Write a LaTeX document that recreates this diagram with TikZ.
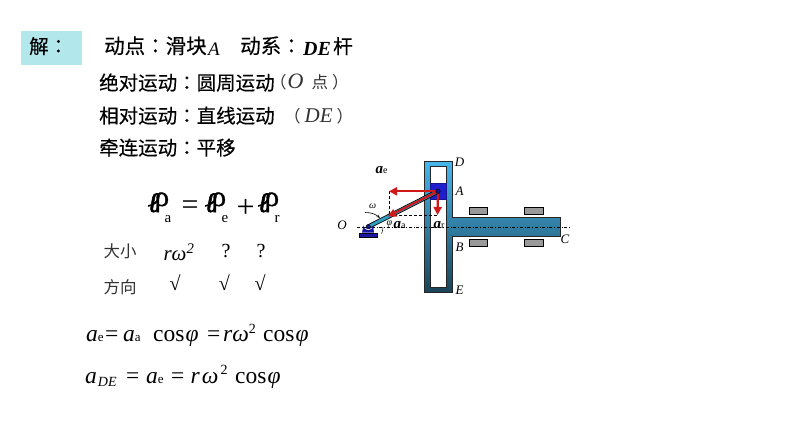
\documentclass[tikz,border=0pt]{standalone}
\usepackage{fontspec}
\setmainfont{Liberation Serif}
\newfontfamily\cjk[FakeBold=0.35]{Noto Sans CJK SC}
\newfontfamily\cjklight{Noto Sans CJK SC}
\newfontfamily\cjkcolon[FakeBold=0.35]{Noto Sans CJK TC}
\newfontfamily\glyphbold[FakeBold=2.2]{Liberation Serif Bold Italic}
\newfontfamily\glyphround[FakeBold=1.2]{Liberation Serif}
\usetikzlibrary{arrows.meta}
\definecolor{boxcyan}{HTML}{B2E8EC}
\definecolor{framelight}{HTML}{46B6EC}
\definecolor{framemid}{HTML}{2E95C8}
\definecolor{framedark}{HTML}{1C4458}
\definecolor{crankteal}{HTML}{2F9CC0}
\definecolor{sliderblue}{HTML}{1E1ECC}
\definecolor{vecred}{HTML}{D01818}
\newcommand{\mh}{{\cjkcolon ：}}
\newcommand{\vecglyph}{{\fontsize{28}{28}\glyphbold ℓ\kern-5.5pt\raisebox{6pt}{\fontsize{29}{29}\glyphround ρ}}}
\tikzset{
  every node/.style={inner sep=0pt},
  head/.style={anchor=base west,font=\cjk\fontsize{19.5}{20}\selectfont},
  headwide/.style={anchor=base west,font=\cjk\fontsize{20.5}{21}\selectfont},
  thincn/.style={anchor=center,font=\cjklight\fontsize{16.5}{18}\selectfont,text=black!80},
  eqn/.style={anchor=base west,font=\fontsize{23.5}{24}\selectfont},
  tbl/.style={anchor=center,font=\fontsize{20}{20}\selectfont},
  sublabel/.style={anchor=center,font=\fontsize{13}{13}\selectfont\itshape},
  smallgreek/.style={anchor=center,font=\fontsize{10}{10}\selectfont\itshape},
  veclabel/.style={anchor=base west,font=\fontsize{15}{15}\selectfont\bfseries\itshape},
  guide/.style={draw=black,line width=0.9pt,fill=black!40},
  redvec/.style={draw=vecred,line width=2.2pt,-{Triangle[length=8pt,width=8pt]}},
  helper/.style={densely dashed,line width=0.5pt}
}
\begin{document}
\begin{tikzpicture}[x=1pt,y=-1pt]
  \useasboundingbox (0,0) rectangle (794,446);
  % solution text
  \node[fill=boxcyan,minimum width=61pt,minimum height=33.5pt] (box) at (51.5,47.8) {};
  \node[head] (jie) at (29,53.5) {解\mh};
  \node[headwide] (l1a) at (104,53.5) {动点\mh 滑块};
  \node[anchor=base west,font=\fontsize{19}{19}\selectfont\itshape] (l1b) at (208,56) {A};
  \node[headwide] (l1c) at (240,53.5) {动系\mh};
  \node[anchor=base west,font=\fontsize{20}{20}\selectfont\bfseries\itshape] (l1d) at (303,56) {DE};
  \node[head] (l1e) at (333,53.5) {杆};
  \node[head] (l2a) at (99,90) {绝对运动\mh 圆周运动};
  \node[thincn,anchor=base west] (l2b) at (270,89) {（\kern1pt{\fontsize{22}{22}\selectfont\rmfamily\itshape O}\kern8pt 点\kern4pt）};
  \node[head] (l3a) at (99,123) {相对运动\mh 直线运动};
  \node[thincn,anchor=base west] (l3b) at (284,123) {（\kern4pt{\fontsize{21}{21}\selectfont\rmfamily\itshape DE}\kern4pt）};
  \node[head] (l4a) at (99,155) {牵连运动\mh 平移};
  % vector equation
  \node[anchor=base west] (va) at (148,212) {\vecglyph};
  \node[anchor=center,font=\fontsize{15}{15}\selectfont] (sa) at (168,219) {a};
  \node[anchor=center,font=\fontsize{30}{30}\selectfont] (eq) at (190,208) {=};
  \node[anchor=base west] (ve) at (205,212) {\vecglyph};
  \node[anchor=center,font=\fontsize{15}{15}\selectfont] (se) at (225,219) {e};
  \node[anchor=center,font=\fontsize{32}{32}\selectfont] (pl) at (245.7,208) {+};
  \node[anchor=base west] (vr) at (258,212) {\vecglyph};
  \node[anchor=center,font=\fontsize{15}{15}\selectfont] (sr) at (277,219) {r};
  % table
  \node[thincn] (daxiao) at (120,251) {大小};
  \node[tbl,font=\fontsize{21}{21}\selectfont\itshape] (c1) at (179,252) {rω\textsuperscript{2}};
  \node[tbl] (c2) at (226,251) {?};
  \node[tbl] (c3) at (261,251) {?};
  \node[thincn] (fangxiang) at (120,287) {方向};
  \node[tbl] (d1) at (175,283) {√};
  \node[tbl] (d2) at (224.3,283) {√};
  \node[tbl] (d3) at (260,283) {√};
  % results
  \node[eqn] (r1a) at (86,341) {\textit{a}{\fontsize{13}{13}\selectfont e}};
  \node[eqn] (r1b) at (105,341) {=};
  \node[eqn] (r1c) at (123,341) {\textit{a}{\fontsize{13}{13}\selectfont a}};
  \node[eqn] (r1d) at (153,341) {cos\kern1pt\textit{φ}};
  \node[eqn] (r1e) at (207,341) {=};
  \node[eqn] (r1f) at (223,341) {\textit{rω}\raisebox{8pt}{\fontsize{14}{14}\selectfont 2}};
  \node[eqn] (r1g) at (263,341) {cos\kern1pt\textit{φ}};
  \node[eqn] (r2a) at (85,383) {\textit{a}{\fontsize{14}{14}\selectfont\itshape\raisebox{-3pt}{\kern1pt DE}}};
  \node[eqn] (r2b) at (126,383) {=};
  \node[eqn] (r2c) at (146,383) {\textit{a}{\fontsize{13}{13}\selectfont e}};
  \node[eqn] (r2d) at (171,383) {=};
  \node[eqn] (r2e) at (190.5,383) {\textit{r}\kern2pt\textit{ω}\kern2pt\raisebox{9pt}{\fontsize{14}{14}\selectfont 2}};
  \node[eqn] (r2f) at (235,383) {cos\kern1pt\textit{φ}};
  % T-shaped member
  \shade[draw=black!85,line width=0.9pt,top color=framelight,middle color=framemid,bottom color=framedark]
    (424.3,161.7) -- (452.7,161.7) -- (452.7,217.7) -- (560,217.7) -- (560,236)
    -- (452.7,236) -- (452.7,292.3) -- (424.3,292.3) -- cycle;
  \draw[draw=black!85,line width=0.9pt,fill=white] (430.3,166.7) rectangle (446,287);
  \node[guide,minimum width=18.7pt,minimum height=7pt] (g1) at (478.3,210.8) {};
  \node[guide,minimum width=18.7pt,minimum height=7pt] (g2) at (534,210.8) {};
  \node[guide,minimum width=18.7pt,minimum height=7pt] (g3) at (478.3,243.2) {};
  \node[guide,minimum width=18.7pt,minimum height=7pt] (g4) at (534,243.2) {};
  \node[draw=sliderblue!70!black,fill=sliderblue,minimum width=15.7pt,minimum height=16pt] (slider) at (438.1,191.3) {};
  % crank
  \coordinate (A) at (438,191.3);
  \coordinate (O) at (368.3,226.7);
  \coordinate (ae) at (389,191.3);
  \coordinate (aa) at (388,216.4);
  \coordinate (ar) at (437.5,215);
  \coordinate (foot) at (389,215);
  \coordinate (cl) at (357,227);
  \coordinate (cr) at (570,227);
  \draw[dash dot,line width=0.4pt] (cl) -- (cr);
  \draw[black,line width=4.6pt] (O) -- (A);
  \draw[crankteal,line width=3pt] (O) -- (A);
  \fill[sliderblue!80!black] (362,232.7) -- (363.5,225.5) arc (180:0:4.8) -- (374,232.7) -- cycle;
  \node[draw=black,fill=sliderblue!80!black,minimum width=17.4pt,minimum height=4pt] (base) at (368,234.7) {};
  \node[circle,draw=black,fill=sliderblue!70!black,minimum size=4.5pt] (pinO) at (O) {};
  \draw[helper] (ae) -- (foot);
  \draw[helper] (foot) -- (ar);
  \draw[black,line width=0.5pt] (383,227) arc (0:26:15);
  \draw[redvec] (A) -- (ae);
  \draw[redvec] (A) -- (aa);
  \draw[redvec] (A) -- (ar);
  \node[circle,draw=black,fill=sliderblue!70!black,minimum size=4.5pt] (pinA) at (A) {};
  \coordinate (w1) at (365,212.5);
  \coordinate (w2) at (380,218);
  \draw[black,line width=0.6pt,-{Stealth[length=3.5pt]}] (w1) to[bend left=20] (w2);
  % labels
  \node[sublabel] (lD) at (459.5,162.5) {D};
  \node[sublabel] (lA) at (459.5,191.5) {A};
  \node[sublabel] (lB) at (459.5,247) {B};
  \node[sublabel] (lE) at (459.5,290) {E};
  \node[sublabel] (lC) at (565,239) {C};
  \node[sublabel] (lO) at (342,225) {O};
  \node[smallgreek] (lw) at (372.7,206) {ω};
  \node[smallgreek] (lp) at (389.5,224) {φ};
  \node[veclabel] (lae) at (375.5,173.5) {a{\fontsize{10}{10}\selectfont\mdseries\upshape e}};
  \node[veclabel] (laa) at (393.5,229) {a{\fontsize{10}{10}\selectfont\mdseries\upshape a}};
  \node[veclabel] (lar) at (433.5,229) {a{\fontsize{10}{10}\selectfont\mdseries\upshape r}};
\end{tikzpicture}
\end{document}
